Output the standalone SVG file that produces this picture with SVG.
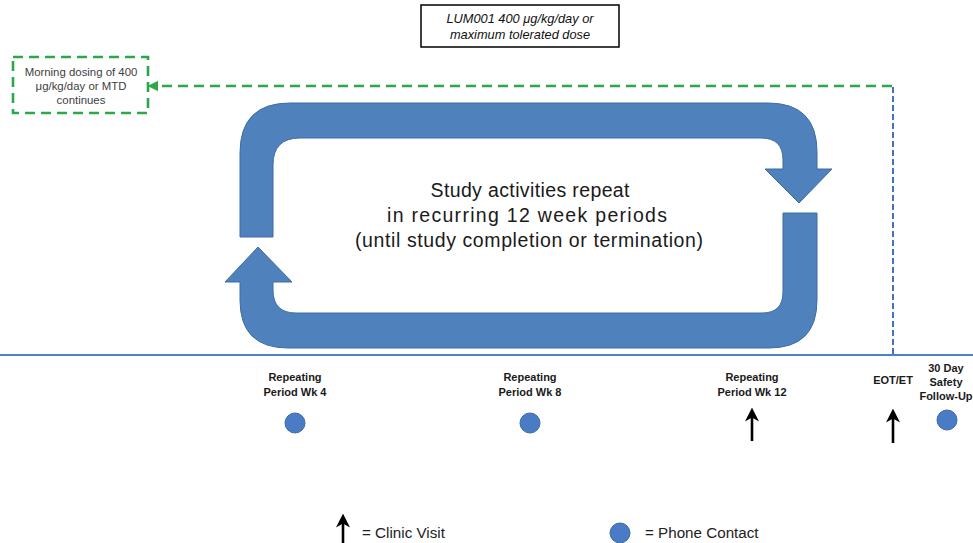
<svg xmlns="http://www.w3.org/2000/svg" width="973" height="543" viewBox="0 0 973 543">
  <defs>
    <style>
      .sans { font-family: "Liberation Sans", Arial, sans-serif; }
      .lbl { font-family: "Liberation Sans", Arial, sans-serif; font-size: 11px; font-weight: bold; fill: #1a1a1a; text-anchor: middle; }
      .loop { fill: #4f81bd; stroke: #3f6ca6; stroke-width: 1; }
      .dot { fill: #4a7cc6; stroke: #3d69a8; stroke-width: 1; }
      .visit { stroke: #000; stroke-width: 2.6; fill: none; }
      .green { stroke: #2aa84a; stroke-width: 2.6; fill: none; stroke-dasharray: 10 6; }
    </style>
    <marker id="greenHead" viewBox="0 0 10 10" refX="2" refY="5" markerWidth="4" markerHeight="4" orient="auto-start-reverse">
      <path d="M0,0 L10,5 L0,10 Z" fill="#2aa84a"/>
    </marker>
    <marker id="blackHead" viewBox="0 0 10 10" refX="4" refY="5" markerWidth="5.4" markerHeight="5.4" orient="auto">
      <path d="M0,0 L10,5 L0,10 L3,5 Z" fill="#000"/>
    </marker>
  </defs>

  <rect width="973" height="543" fill="#fff"/>

  <!-- dose box -->
  <g id="dose-box">
    <rect x="421" y="5" width="198" height="42" fill="#fff" stroke="#000" stroke-width="1.5"/>
    <text class="sans" x="520" y="23" font-size="12.8" font-style="italic" text-anchor="middle" fill="#111">LUM001 400 μg/kg/day or</text>
    <text class="sans" x="520" y="39" font-size="12.8" font-style="italic" text-anchor="middle" fill="#111">maximum tolerated dose</text>
  </g>

  <!-- morning dosing box -->
  <g id="morning-box">
    <rect x="13" y="57" width="135" height="56" fill="#fff" class="green"/>
    <text class="sans" x="81" y="76" font-size="11.4" text-anchor="middle" fill="#404040">Morning dosing of 400</text>
    <text class="sans" x="81" y="90" font-size="11.4" text-anchor="middle" fill="#404040">μg/kg/day or MTD</text>
    <text class="sans" x="81" y="104" font-size="11.4" text-anchor="middle" fill="#404040">continues</text>
  </g>

  <!-- recurring cycle -->
  <g id="cycle">
    <path class="loop" d="M240,237 L240,153 Q240,103 290,103 L768,103 Q817,103 817,152 L817,169 L832,169 L799,203 L765,169 L783,169 L783,160 Q783,138 761,138 L300,138 Q273,138 273,165 L273,237 Z"/>
    <path class="loop" d="M783,213 L817,213 L817,300 Q817,348 769,348 L288,348 Q240,348 240,300 L240,282 L225,282 L258,247 L292,282 L273,282 L273,290 Q273,313 296,313 L762,313 Q783,313 783,292 Z"/>
    <text class="sans" x="530" y="197" font-size="19.5" text-anchor="middle" fill="#1a1a1a" textLength="199" lengthAdjust="spacing">Study activities repeat</text>
    <text class="sans" x="527" y="222" font-size="19.5" text-anchor="middle" fill="#1a1a1a" textLength="280" lengthAdjust="spacing">in recurring 12 week periods</text>
    <text class="sans" x="529" y="247" font-size="19.5" text-anchor="middle" fill="#1a1a1a" textLength="348" lengthAdjust="spacing">(until study completion or termination)</text>
  </g>

  <!-- connectors -->
  <g id="connectors">
    <line x1="0" y1="355" x2="973" y2="355" stroke="#4f81bd" stroke-width="2"/>
    <line x1="893" y1="87" x2="893" y2="355" stroke="#4472c4" stroke-width="2" stroke-dasharray="6 3"/>
    <line class="green" x1="892" y1="86" x2="156" y2="86" marker-end="url(#greenHead)"/>
  </g>

  <!-- timepoints -->
  <g id="wk4">
    <text class="lbl" x="295" y="381">Repeating</text>
    <text class="lbl" x="295" y="396">Period Wk 4</text>
    <circle class="dot" cx="295" cy="423" r="10"/>
  </g>
  <g id="wk8">
    <text class="lbl" x="530" y="381">Repeating</text>
    <text class="lbl" x="530" y="396">Period Wk 8</text>
    <circle class="dot" cx="530" cy="423" r="10"/>
  </g>
  <g id="wk12">
    <text class="lbl" x="752" y="381">Repeating</text>
    <text class="lbl" x="752" y="396">Period Wk 12</text>
    <line class="visit" x1="752" y1="441" x2="752" y2="416" marker-end="url(#blackHead)"/>
  </g>
  <g id="eot">
    <text class="lbl" x="893" y="384">EOT/ET</text>
    <line class="visit" x1="893" y1="443" x2="893" y2="417" marker-end="url(#blackHead)"/>
  </g>
  <g id="followup">
    <text class="lbl" x="946" y="372" font-size="9.4">30 Day</text>
    <text class="lbl" x="946" y="386" font-size="9.4">Safety</text>
    <text class="lbl" x="946" y="400" font-size="9.4">Follow-Up</text>
    <circle class="dot" cx="947" cy="420" r="10"/>
  </g>

  <!-- legend -->
  <g id="legend">
    <line class="visit" x1="343" y1="545" x2="343" y2="522" marker-end="url(#blackHead)"/>
    <text class="sans" x="362" y="538" font-size="15.2" fill="#222">= Clinic Visit</text>
    <circle class="dot" cx="620" cy="533" r="10"/>
    <text class="sans" x="645" y="538" font-size="15.2" fill="#222">= Phone Contact</text>
  </g>
</svg>
